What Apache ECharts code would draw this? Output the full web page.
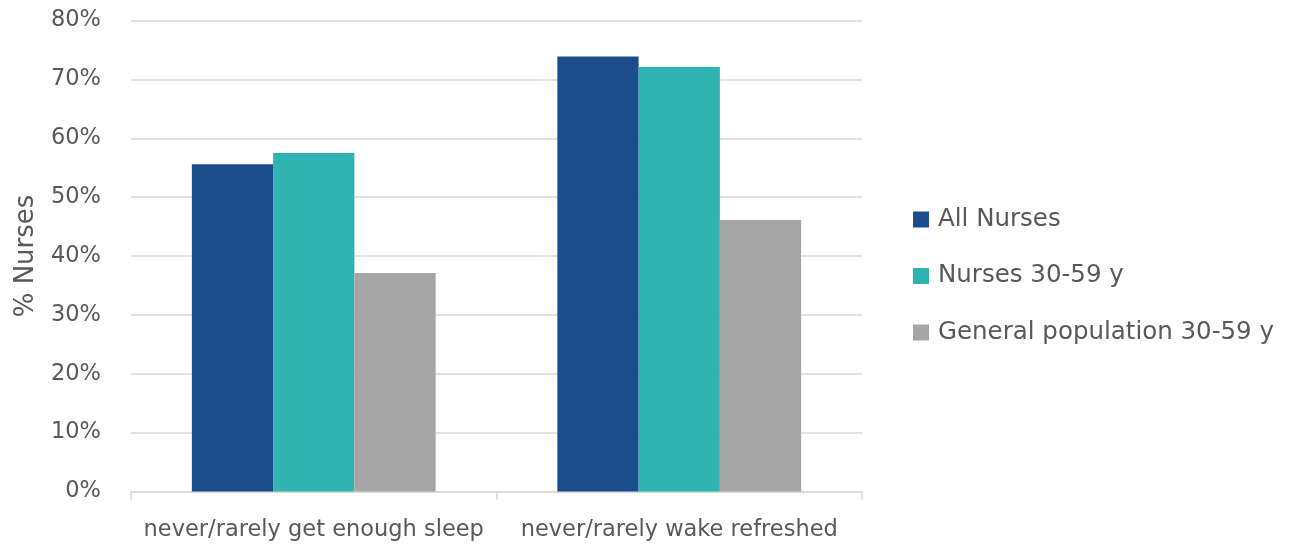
<!DOCTYPE html>
<html>
<head>
<meta charset="utf-8">
<script src="https://cdn.jsdelivr.net/npm/echarts@6/dist/echarts.min.js"></script>
<style>
  html, body { margin: 0; padding: 0; background: #fff; }
  #chart { width: 1296px; height: 544px; }
</style>
</head>
<body>
<div id="chart"></div>
<script>
// Sleep survey: share of respondents reporting poor sleep
const categories = ['never/rarely get enough sleep', 'never/rarely wake refreshed'];
const allNurses = [55.6, 73.9];
const nurses3059 = [57.5, 72.1];
const generalPop3059 = [37.1, 46.1];
const seriesNames = ['All Nurses', 'Nurses 30-59 y', 'General population 30-59 y'];
const colors = ['#1B4C8C', '#2FB4B2', '#A5A5A5'];

const FONT = 'DejaVu Sans';
const TEXT = '#595959';

const chart = echarts.init(document.getElementById('chart'));
chart.setOption({
  animation: false,
  color: colors,
  textStyle: { fontFamily: FONT, color: TEXT },
  grid: { left: 131, right: 434, top: 20.5, bottom: 52.5, containLabel: false },
  legend: {
    orient: 'vertical',
    left: 913,
    top: 207,
    padding: 0,
    itemWidth: 16,
    itemHeight: 16,
    itemGap: 31.5,
    icon: 'rect',
    textStyle: { fontFamily: FONT, fontSize: 24.5, color: TEXT, padding: [0, 0, 0, 4] },
    data: seriesNames
  },
  xAxis: {
    type: 'category',
    data: categories,
    axisLine: { lineStyle: { color: '#D9D9D9', width: 1.5 } },
    axisTick: { show: true, interval: 0, length: 8, lineStyle: { color: '#D9D9D9', width: 1.5 } },
    axisLabel: { interval: 0, fontFamily: FONT, fontSize: 22.5, color: TEXT, margin: 27 }
  },
  yAxis: {
    type: 'value',
    min: 0,
    max: 80,
    interval: 10,
    name: '% Nurses',
    nameLocation: 'middle',
    nameGap: 92,
    nameRotate: 90,
    nameTextStyle: { fontFamily: FONT, fontSize: 26, color: TEXT },
    axisLine: { show: false },
    axisTick: { show: false },
    axisLabel: { fontFamily: FONT, fontSize: 22.5, color: TEXT, margin: 30, formatter: '{value}%' },
    splitLine: { lineStyle: { color: '#D9D9D9', width: 1.5 } }
  },
  series: [
    { name: seriesNames[0], type: 'bar', data: allNurses, barGap: '0%', barCategoryGap: '33.3%' },
    { name: seriesNames[1], type: 'bar', data: nurses3059, barGap: '0%', barCategoryGap: '33.3%' },
    { name: seriesNames[2], type: 'bar', data: generalPop3059, barGap: '0%', barCategoryGap: '33.3%' }
  ]
});
</script>
</body>
</html>
